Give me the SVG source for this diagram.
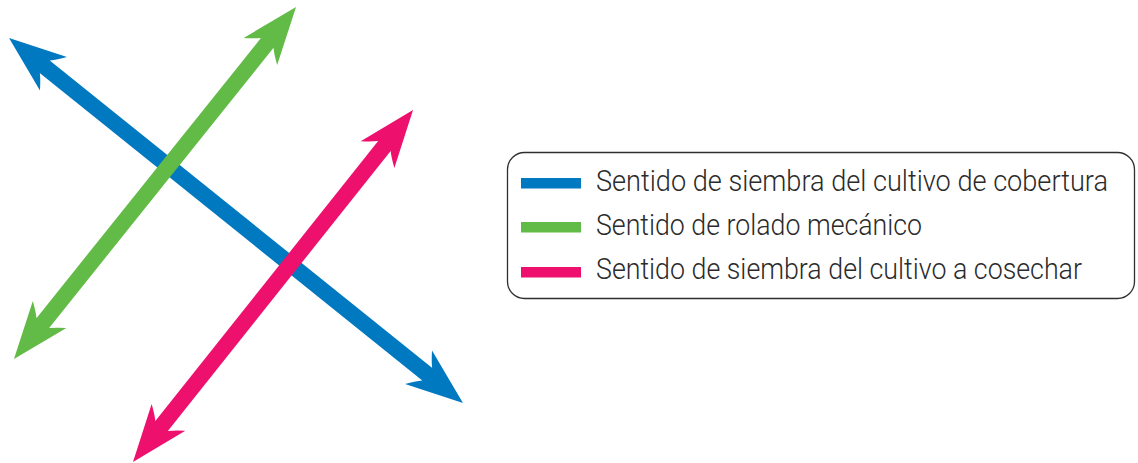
<svg xmlns="http://www.w3.org/2000/svg" width="1138" height="463" viewBox="0 0 1138 463">
  <style>
    .shaft { fill: none; stroke-width: 16; stroke-linecap: butt; }
    .legend-box { fill: #ffffff; stroke: #2f2f2f; stroke-width: 1.3; }
    .legend-text { font-family: Roboto, "Liberation Sans", sans-serif; font-weight: 300; font-size: 29px; fill: #2b2b2b; }
  </style>
  <defs>
    <path id="headShape" d="M0,0 L-57,-21.5 Q-51,-13 -46,-8 L-46,8 Q-51,13 -57,21.5 Z"/>
    <marker id="headBlue" markerUnits="userSpaceOnUse" viewBox="-60 -25 62 50" markerWidth="62" markerHeight="50" refX="-45" refY="0" orient="auto-start-reverse" overflow="visible">
      <use href="#headShape" fill="#0079C1"/>
    </marker>
    <marker id="headGreen" markerUnits="userSpaceOnUse" viewBox="-60 -25 62 50" markerWidth="62" markerHeight="50" refX="-45" refY="0" orient="auto-start-reverse" overflow="visible">
      <use href="#headShape" fill="#62BB46"/>
    </marker>
    <marker id="headPink" markerUnits="userSpaceOnUse" viewBox="-60 -25 62 50" markerWidth="62" markerHeight="50" refX="-45" refY="0" orient="auto-start-reverse" overflow="visible">
      <use href="#headShape" fill="#ED106D"/>
    </marker>
  </defs>

  <g id="connectors">
    <path id="arrow-blue" class="shaft" stroke="#0079C1" d="M44.1,66.2 L427.9,374.8" marker-start="url(#headBlue)" marker-end="url(#headBlue)"/>
    <path id="arrow-green" class="shaft" stroke="#62BB46" d="M42.1,323.9 L267.9,42.1" marker-start="url(#headGreen)" marker-end="url(#headGreen)"/>
    <path id="arrow-pink" class="shaft" stroke="#ED106D" d="M161,426.8 L385,145.2" marker-start="url(#headPink)" marker-end="url(#headPink)"/>
  </g>

  <g id="legend">
    <rect class="legend-box" x="507.5" y="152.5" width="627" height="146" rx="17" ry="17"/>
    <g id="legend-blue">
      <rect x="521" y="178" width="60" height="10.5" fill="#0079C1"/>
      <text class="legend-text" transform="translate(596,191) scale(0.88,1)" x="0" y="0" textLength="581.8" lengthAdjust="spacingAndGlyphs">Sentido de siembra del cultivo de cobertura</text>
    </g>
    <g id="legend-green">
      <rect x="521" y="222" width="60" height="10.5" fill="#62BB46"/>
      <text class="legend-text" transform="translate(596,235) scale(0.88,1)" x="0" y="0" textLength="370.5" lengthAdjust="spacingAndGlyphs">Sentido de rolado mecánico</text>
    </g>
    <g id="legend-pink">
      <rect x="521" y="267" width="60" height="10.5" fill="#ED106D"/>
      <text class="legend-text" transform="translate(596,279) scale(0.88,1)" x="0" y="0" textLength="552.3" lengthAdjust="spacingAndGlyphs">Sentido de siembra del cultivo a cosechar</text>
    </g>
  </g>
</svg>
